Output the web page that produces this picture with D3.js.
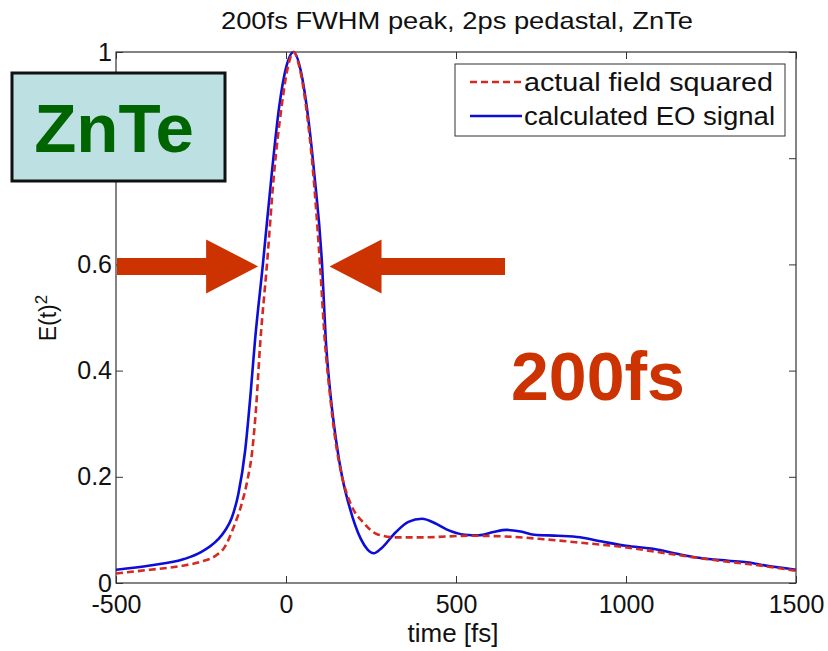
<!DOCTYPE html>
<html>
<head>
<meta charset="utf-8">
<script src="https://cdn.jsdelivr.net/npm/d3@7"></script>
<style>
  html, body { margin: 0; padding: 0; background: #ffffff; }
  svg { display: block; }
  text { font-family: "Liberation Sans", Arial, Helvetica, sans-serif; }
</style>
</head>
<body>
<svg id="chart" width="828" height="651"></svg>
<script>
// Time samples (fs) and normalised |E(t)|^2 for the actual pulse
const fieldTime = [-500, -400, -300, -250, -208, -180, -154, -130, -113, -100, -88, -76, -56, -35, -13, 5, 22, 40, 59, 80, 100, 114, 130, 145, 165, 193, 227, 268, 322, 404, 539, 648, 757, 865, 1001, 1137, 1274, 1382, 1500];
const fieldSquared = [0.018, 0.025, 0.033, 0.040, 0.051, 0.068, 0.105, 0.150, 0.195, 0.245, 0.330, 0.450, 0.600, 0.772, 0.897, 0.970, 1.000, 0.970, 0.897, 0.772, 0.600, 0.458, 0.350, 0.270, 0.200, 0.145, 0.114, 0.092, 0.086, 0.086, 0.089, 0.0875, 0.0825, 0.076, 0.067, 0.054, 0.042, 0.034, 0.023];

// Time samples (fs) and the calculated electro-optic signal
const eoTime = [-500, -400, -300, -250, -200, -180, -160, -140, -120, -105, -91, -68, -42, -20, 0, 22, 45, 61, 83, 106, 117, 130, 147, 165, 186, 220, 240, 258, 280, 322, 360, 400, 440, 472, 526, 567, 610, 648, 690, 730, 800, 865, 930, 1000, 1083, 1150, 1219, 1300, 1355, 1420, 1500];
const eoSignal = [0.025, 0.033, 0.045, 0.058, 0.082, 0.098, 0.122, 0.168, 0.250, 0.350, 0.458, 0.600, 0.770, 0.897, 0.970, 1.000, 0.960, 0.897, 0.772, 0.600, 0.458, 0.360, 0.270, 0.200, 0.145, 0.083, 0.063, 0.056, 0.065, 0.095, 0.115, 0.121, 0.112, 0.101, 0.091, 0.090, 0.096, 0.100, 0.097, 0.091, 0.089, 0.086, 0.078, 0.070, 0.064, 0.055, 0.047, 0.042, 0.039, 0.032, 0.025];

const xTicks = [-500, 0, 500, 1000, 1500];
const yTicks = [0, 0.2, 0.4, 0.6, 0.8, 1];
// 0.8 sits under the crystal label box, so it carries no text
const yTickLabels = ["0", "0.2", "0.4", "0.6", "", "1"];
const seriesNames = ["actual field squared", "calculated EO signal"];
const titleText = "200fs FWHM peak, 2ps pedastal, ZnTe";
const xLabel = "time [fs]";
const crystalLabel = "ZnTe";
const widthLabel = "200fs";
// FWHM level and the times the two arrows point at
const fwhmLevel = 0.6;
const arrowTips = [-82, 128];

const svg = d3.select("#chart");
const plot = { left: 116, right: 796, top: 52, bottom: 583 };

const x = d3.scaleLinear().domain([-500, 1500]).range([plot.left, plot.right]);
const y = d3.scaleLinear().domain([0, 1]).range([plot.bottom, plot.top]);

const axisColor = "#333333";
const tickFont = 25;

// Clip for the curves
svg.append("defs").append("clipPath").attr("id", "plotClip")
  .append("rect")
  .attr("x", plot.left).attr("y", plot.top - 2)
  .attr("width", plot.right - plot.left).attr("height", plot.bottom - plot.top + 2);

// Axes with inward ticks on all four sides
function styleAxis(g) {
  g.select(".domain").remove();
  g.selectAll("line").attr("stroke", axisColor).attr("stroke-width", 1);
  g.selectAll("text").attr("fill", "#111").attr("font-size", tickFont)
    .attr("font-family", "Liberation Sans, Arial, sans-serif");
}

svg.append("g").attr("transform", `translate(0,${plot.bottom})`)
  .call(d3.axisBottom(x).tickValues(xTicks).tickSize(-7).tickPadding(12).tickFormat(d => String(d)))
  .call(styleAxis);
svg.append("g").attr("transform", `translate(0,${plot.top})`)
  .call(d3.axisTop(x).tickValues(xTicks).tickSize(-7).tickFormat(""))
  .call(styleAxis);
svg.append("g").attr("transform", `translate(${plot.left},0)`)
  .call(d3.axisLeft(y).tickValues(yTicks).tickSize(-7).tickPadding(4).tickFormat((d, i) => yTickLabels[i]))
  .call(styleAxis);
svg.append("g").attr("transform", `translate(${plot.right},0)`)
  .call(d3.axisRight(y).tickValues(yTicks).tickSize(-7).tickFormat(""))
  .call(styleAxis);

// Plot box
svg.append("rect")
  .attr("x", plot.left).attr("y", plot.top)
  .attr("width", plot.right - plot.left).attr("height", plot.bottom - plot.top)
  .attr("fill", "none").attr("stroke", axisColor).attr("stroke-width", 1.2);

// Title and axis labels
svg.append("text").attr("x", 457).attr("y", 29)
  .attr("text-anchor", "middle").attr("font-size", 24)
  .attr("textLength", 472).attr("lengthAdjust", "spacingAndGlyphs")
  .attr("fill", "#111").text(titleText);
svg.append("text").attr("x", 453).attr("y", 642)
  .attr("text-anchor", "middle").attr("font-size", 26).attr("fill", "#111").text(xLabel);
const yl = svg.append("text").attr("transform", "translate(56,318) rotate(-90)")
  .attr("text-anchor", "middle").attr("font-size", 23).attr("fill", "#111");
yl.append("tspan").text("E(t)");
yl.append("tspan").attr("dy", "-0.55em").attr("font-size", 17).text("2");

// Curves
const line = d3.line().x(d => x(d[0])).y(d => y(d[1])).curve(d3.curveMonotoneX);
const curves = svg.append("g").attr("clip-path", "url(#plotClip)");
const fieldColor = "#d42a22", eoColor = "#0d0dd9";
curves.append("path")
  .datum(d3.zip(eoTime, eoSignal))
  .attr("d", line).attr("fill", "none")
  .attr("stroke", eoColor).attr("stroke-width", 2.6).attr("stroke-linejoin", "round");
curves.append("path")
  .datum(d3.zip(fieldTime, fieldSquared))
  .attr("d", line).attr("fill", "none")
  .attr("stroke", fieldColor).attr("stroke-width", 2.6).attr("stroke-dasharray", "7,4");

// Legend
const lg = svg.append("g");
lg.append("rect").attr("x", 455).attr("y", 64).attr("width", 330).attr("height", 72)
  .attr("fill", "#fff").attr("stroke", axisColor).attr("stroke-width", 1);
const legendRows = [
  { name: seriesNames[0], color: fieldColor, dash: "7,4", len: 249 },
  { name: seriesNames[1], color: eoColor, dash: null, len: 251 }
];
legendRows.forEach((r, i) => {
  const cy = 82 + i * 34;
  lg.append("line").attr("x1", 470).attr("x2", 522).attr("y1", cy).attr("y2", cy)
    .attr("stroke", r.color).attr("stroke-width", 2.4)
    .attr("stroke-dasharray", r.dash);
  lg.append("text").attr("x", 524).attr("y", cy + 9).attr("font-size", 25)
    .attr("textLength", r.len).attr("lengthAdjust", "spacingAndGlyphs")
    .attr("fill", "#111").text(r.name);
});

// Crystal label box
svg.append("rect").attr("x", 12).attr("y", 73).attr("width", 213).attr("height", 108)
  .attr("fill", "#bde0e3").attr("stroke", "#111").attr("stroke-width", 3);
svg.append("text").attr("x", 114).attr("y", 152).attr("text-anchor", "middle")
  .attr("font-size", 69).attr("font-weight", "bold").attr("fill", "#006400").text(crystalLabel);

// FWHM arrows
const arrowColor = "#cc3300";
const ay = y(fwhmLevel) + 2;
function arrowPath(tipX, dir, tailX) {
  const headLen = 52, headHalf = 27, shaftHalf = 8.5;
  const baseX = tipX - dir * headLen;
  return `M${tipX},${ay} L${baseX},${ay - headHalf} L${baseX},${ay - shaftHalf} L${tailX},${ay - shaftHalf}` +
         ` L${tailX},${ay + shaftHalf} L${baseX},${ay + shaftHalf} L${baseX},${ay + headHalf} Z`;
}
svg.append("path").attr("d", arrowPath(x(arrowTips[0]), 1, plot.left + 1)).attr("fill", arrowColor);
svg.append("path").attr("d", arrowPath(x(arrowTips[1]), -1, 505)).attr("fill", arrowColor);

// Pulse width label
svg.append("text").attr("x", 511).attr("y", 400)
  .attr("font-size", 68).attr("font-weight", "bold").attr("fill", arrowColor).text(widthLabel);
</script>
</body>
</html>
